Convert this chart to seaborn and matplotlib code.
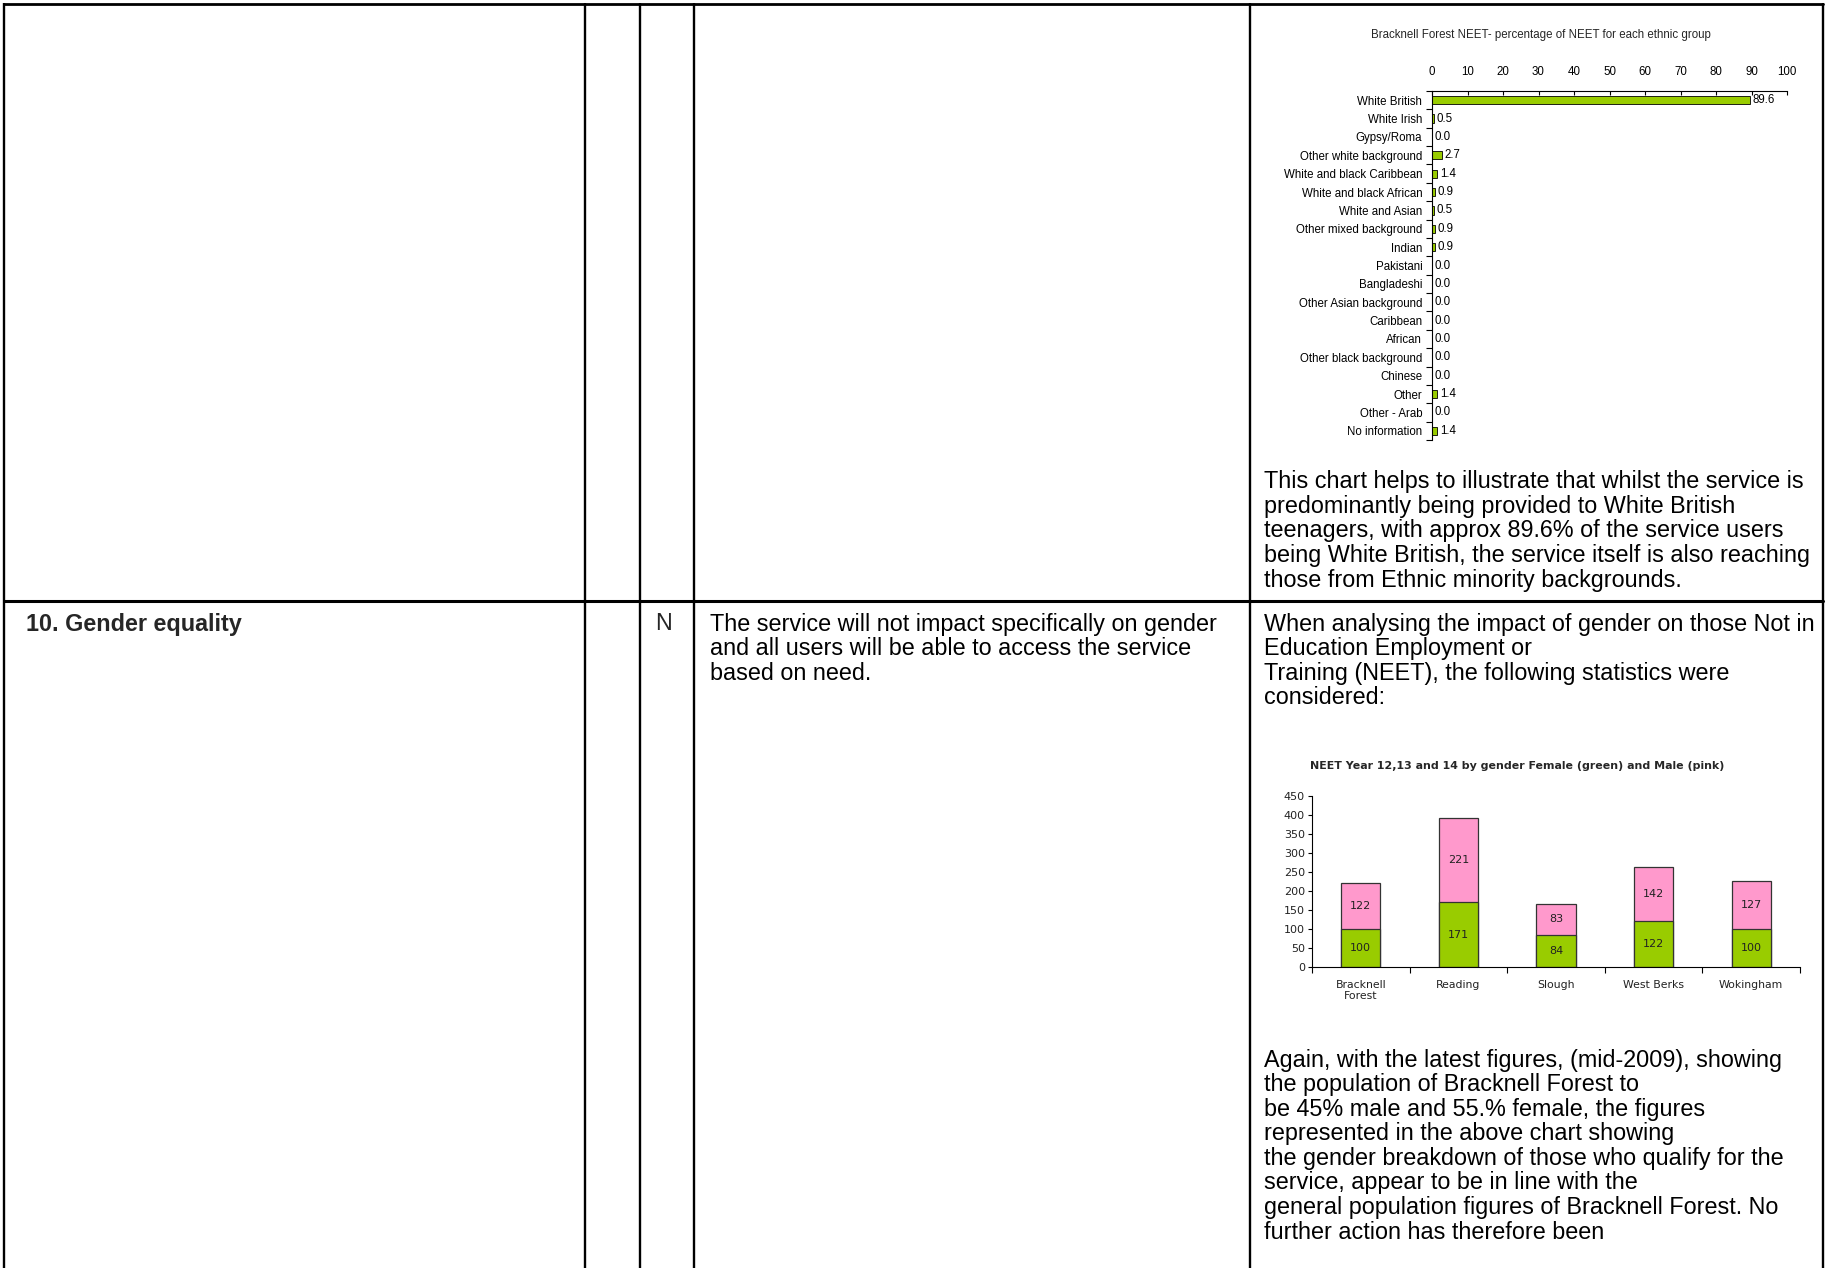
import numpy as np
import pandas as pd
import matplotlib
matplotlib.use("Agg")
import matplotlib.pyplot as plt
import seaborn as sns

# ---------------- data ----------------
ethnic_groups = ["White British", "White Irish", "Gypsy/Roma", "Other white background",
                 "White and black Caribbean", "White and black African", "White and Asian",
                 "Other mixed background", "Indian", "Pakistani", "Bangladeshi",
                 "Other Asian background", "Caribbean", "African", "Other black background",
                 "Chinese", "Other", "Other - Arab", "No information"]
ethnic_pct = [89.6, 0.5, 0.0, 2.7, 1.4, 0.9, 0.5, 0.9, 0.9, 0.0, 0.0,
              0.0, 0.0, 0.0, 0.0, 0.0, 1.4, 0.0, 1.4]
pct_ticks = [0, 10, 20, 30, 40, 50, 60, 70, 80, 90, 100]

areas = ["Bracknell\nForest", "Reading", "Slough", "West Berks", "Wokingham"]
female = [100, 171, 84, 122, 100]
male = [122, 221, 83, 142, 127]
count_ticks = [0, 50, 100, 150, 200, 250, 300, 350, 400, 450]

ethnic_title = "Bracknell Forest NEET- percentage of NEET for each ethnic group"
gender_title = "NEET Year 12,13 and 14 by gender Female (green) and Male (pink)"

text_row9 = ["This chart helps to illustrate that whilst the service is",
             "predominantly being provided to White British",
             "teenagers, with approx 89.6% of the service users",
             "being White British, the service itself is also reaching",
             "those from Ethnic minority backgrounds."]
text_row10_a = ["When analysing the impact of gender on those Not in",
                "Education Employment or",
                "Training (NEET), the following statistics were",
                "considered:"]
text_row10_b = ["Again, with the latest figures, (mid-2009), showing",
                "the population of Bracknell Forest to",
                "be 45% male and 55.% female, the figures",
                "represented in the above chart showing",
                "the gender breakdown of those who qualify for the",
                "service, appear to be in line with the",
                "general population figures of Bracknell Forest. No",
                "further action has therefore been"]
row10_title = "10. Gender equality"
row10_flag = "N"
row10_desc = ["The service will not impact specifically on gender",
              "and all users will be able to access the service",
              "based on need."]

# ---------------- figure ----------------
W, H = 1827, 1268
sns.set_theme(style="white")
plt.rcParams['font.family'] = ['Liberation Sans', 'DejaVu Sans']

fig = plt.figure(figsize=(W / 100, H / 100), dpi=100)
fig.patch.set_facecolor("white")


def frac(x0, y0, x1, y1):
    return [x0 / W, 1 - y1 / H, (x1 - x0) / W, (y1 - y0) / H]


bg = fig.add_axes([0, 0, 1, 1])
bg.set_xlim(0, W)
bg.set_ylim(H, 0)
bg.axis("off")

# table grid
sep_y = 601
for x in [4, 585, 640, 694, 1250, 1823]:
    bg.plot([x, x], [3, H], color="black", lw=1.7, solid_capstyle="butt")
bg.plot([4, 1823], [3.5, 3.5], color="black", lw=2.0)
bg.plot([4, 1823], [sep_y, sep_y], color="black", lw=2.2)

body_fs = 16.8
line_h = 24.6


def block(lines, x, y0, **kw):
    for i, s in enumerate(lines):
        bg.text(x, y0 + i * line_h, s, fontsize=body_fs, va="center", ha="left",
                color="black", family=["Liberation Sans", "DejaVu Sans"], **kw)


row10_y = sep_y + 23
block(text_row9, 1264, sep_y - 21 - 4 * line_h)
block(text_row10_a, 1264, row10_y)
block(text_row10_b, 1264, 1060)
bg.text(26, row10_y, row10_title, fontsize=body_fs, fontweight="bold", va="center", ha="left")
bg.text(655, row10_y, row10_flag, fontsize=body_fs, va="center", ha="left")
block(row10_desc, 710, row10_y)

# ---------------- ethnic chart ----------------
ax1 = fig.add_axes(frac(1432, 91, 1787, 440))
df1 = pd.DataFrame({"group": ethnic_groups, "pct": ethnic_pct})
sns.barplot(data=df1, x="pct", y="group", orient="h", color="#99CC00", saturation=1,
            width=0.45, edgecolor="black", linewidth=0.6, ax=ax1)
ax1.set_xlim(0, 100)
ax1.set_ylim(len(ethnic_groups) - 0.5, -0.5)
ax1.set_xlabel("")
ax1.set_ylabel("")
ax1.xaxis.tick_top()
ax1.set_xticks(pct_ticks)
ax1.set_xticklabels([str(t) for t in pct_ticks])
ax1.tick_params(axis="x", which="major", direction="in", length=3, width=0.8, color="black",
                labelsize=8.3, labelcolor="black", pad=9.5, top=True, bottom=False)
ax1.set_yticks(np.arange(len(ethnic_groups)))
ax1.set_yticklabels(ethnic_groups)
ax1.tick_params(axis="y", which="major", length=0, labelsize=8.3, labelcolor="black", pad=7)
ax1.set_yticks(np.arange(len(ethnic_groups) + 1) - 0.5, minor=True)
ax1.tick_params(axis="y", which="minor", direction="out", length=4, width=0.8, color="black", left=True)
for s in ["right", "bottom"]:
    ax1.spines[s].set_visible(False)
for s in ["top", "left"]:
    ax1.spines[s].set_color("black")
    ax1.spines[s].set_linewidth(0.8)
ax1.set_facecolor("none")
ax1.bar_label(ax1.containers[0], labels=[f"{v:.1f}" for v in ethnic_pct], padding=2,
              fontsize=8.3, color="black")
fig.text(1541 / W, 1 - 35 / H, ethnic_title, fontsize=8.3, ha="center", va="center")

# ---------------- gender chart ----------------
gfam = ["DejaVu Sans"]
ax2 = fig.add_axes(frac(1312, 796, 1800, 967))
df2 = pd.DataFrame({"area": areas, "female": female, "male": male})
df2["total"] = df2["female"] + df2["male"]
sns.barplot(data=df2, x="area", y="total", color="#FF99CC", saturation=1, width=0.4,
            edgecolor="#333333", linewidth=0.9, ax=ax2)
sns.barplot(data=df2, x="area", y="female", color="#99CC00", saturation=1, width=0.4,
            edgecolor="#333333", linewidth=0.9, ax=ax2)
ax2.set_ylim(0, 450)
ax2.set_xlim(-0.5, len(areas) - 0.5)
ax2.set_xlabel("")
ax2.set_ylabel("")
ax2.set_yticks(count_ticks)
ax2.set_yticklabels([str(t) for t in count_ticks], family=gfam)
ax2.tick_params(axis="y", direction="out", length=3, width=0.8, color="black",
                labelsize=8.0, labelcolor="#222222", pad=2, left=True)
ax2.set_xticks(range(len(areas)))
ax2.set_xticklabels(areas, family=gfam, linespacing=1.2)
ax2.tick_params(axis="x", which="major", length=0, labelsize=7.8, labelcolor="#222222", pad=9)
ax2.set_xticks(np.arange(len(areas) + 1) - 0.5, minor=True)
ax2.tick_params(axis="x", which="minor", direction="out", length=4, width=0.8, color="black", bottom=True)
for s in ["right", "top"]:
    ax2.spines[s].set_visible(False)
for s in ["left", "bottom"]:
    ax2.spines[s].set_color("black")
    ax2.spines[s].set_linewidth(0.8)
ax2.set_facecolor("none")
for i in range(len(areas)):
    ax2.text(i, female[i] / 2, str(female[i]), ha="center", va="center", fontsize=8.0,
             family=gfam, color="#222222")
    ax2.text(i, female[i] + male[i] / 2, str(male[i]), ha="center", va="center", fontsize=8.0,
             family=gfam, color="#222222")
fig.text(1517 / W, 1 - 766 / H, gender_title, fontsize=7.9, fontweight="bold",
         ha="center", va="center", family=gfam)

fig.savefig("out.png", dpi=100, facecolor="white")
